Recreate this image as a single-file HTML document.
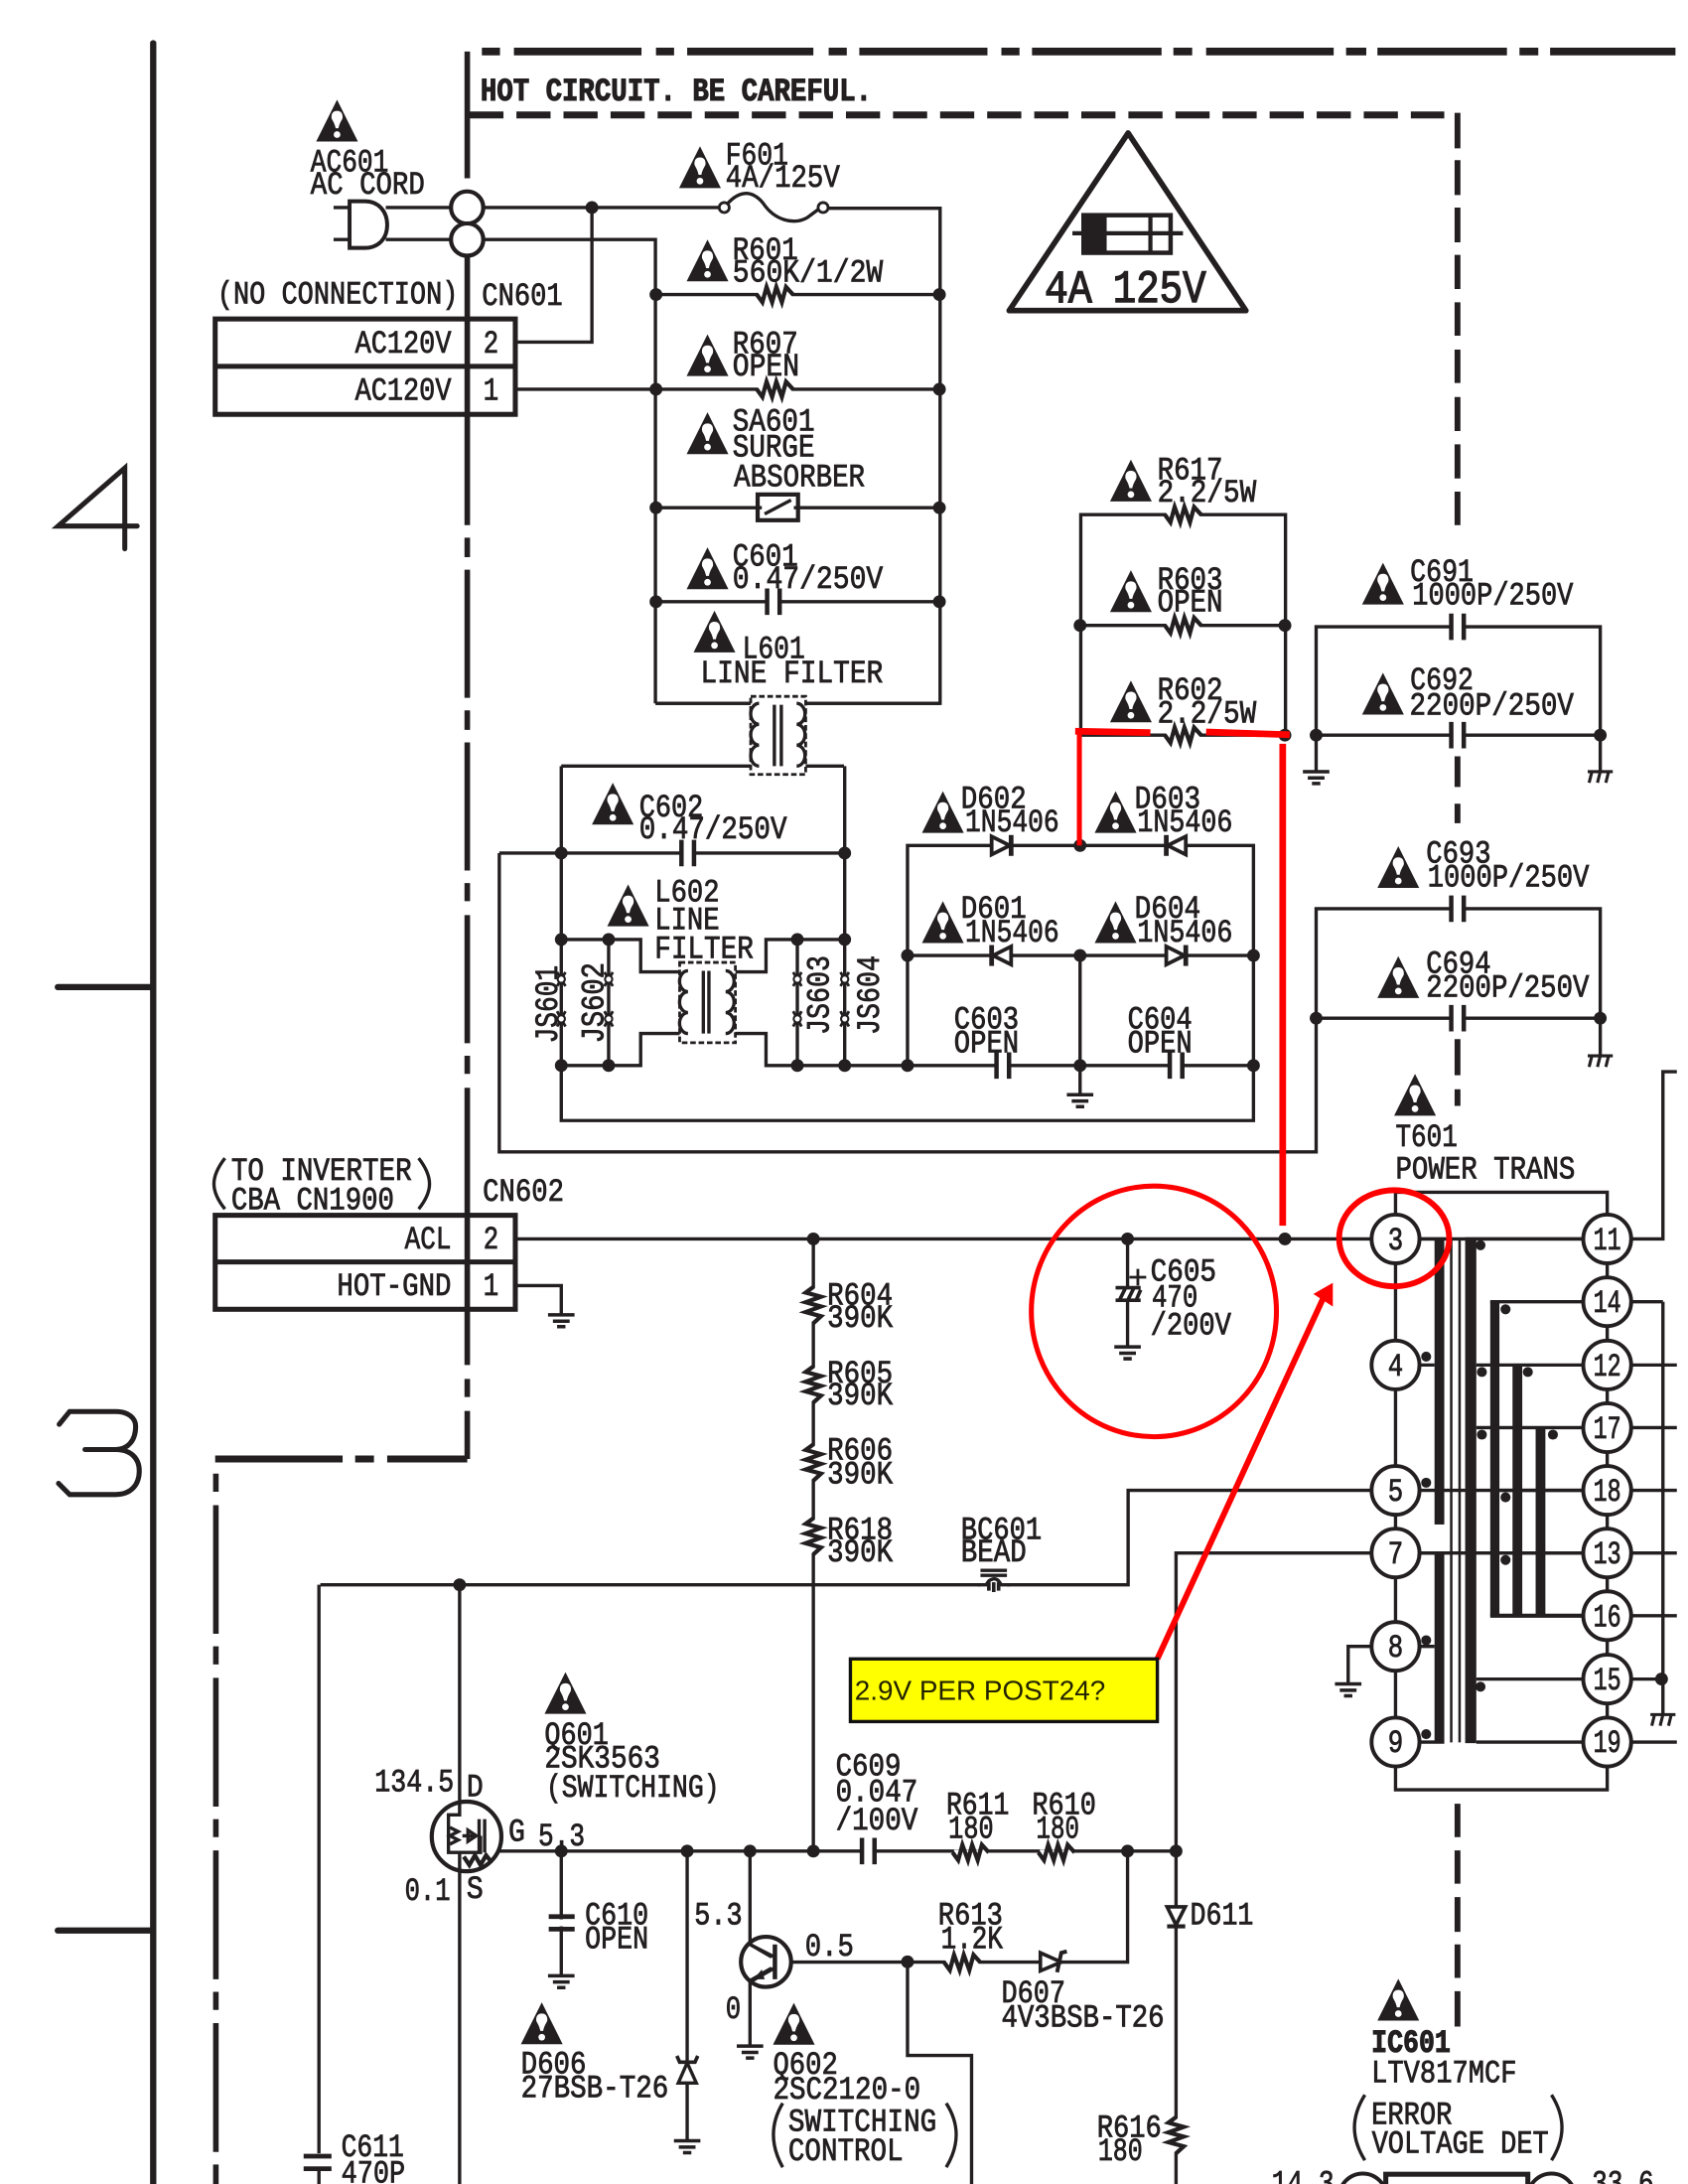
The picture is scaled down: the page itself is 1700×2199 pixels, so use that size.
<!DOCTYPE html>
<html><head><meta charset="utf-8"><title>Schematic</title>
<style>
html,body{margin:0;padding:0;background:#fff}
svg{display:block}
text{font-family:"Liberation Mono",monospace;font-size:23px;fill:#231f20;stroke:#231f20;stroke-width:.6}
.b{font-weight:bold;stroke-width:.8}
.big{font-size:33px;stroke-width:1}
.l{fill:none;stroke:#231f20;stroke-width:2.4;stroke-linejoin:miter}
.k{fill:none;stroke:#231f20;stroke-width:3.6;stroke-linecap:round}
.r{fill:none;stroke:#f00;stroke-width:4.2}
</style></head><body>
<svg xmlns="http://www.w3.org/2000/svg" width="1700" height="2199" viewBox="0 0 1212 1568" preserveAspectRatio="none">
<defs>
<g id="w"><path d="M15 0L30 30H0Z" fill="#231f20"/><path d="M15 8c3 0 4 2 4 4.500 0 2-2 3-3 8h-2c-1-5-3-6-3-8 0-2.500 1-4.500 4-4.500z" fill="#fff"/><circle cx="15" cy="25" r="2.400" fill="#fff"/></g>
<g id="rh"><rect x="-12" y="-2" width="24" height="4" fill="#fff"/><path d="M-13 0L-9 5.500L-6 -5.500L-2 5.500L1 -5.500L5 5.500L8 -5.500L13 0" fill="none" stroke="#231f20" stroke-width="3"/></g>
<g id="gd"><path d="M-9.500 0H9.500M-6 4.500H6M-3 8.500H3" fill="none" stroke="#231f20" stroke-width="2.500"/></g>
<g id="gh"><path d="M-9 0H9M-6 0L-8 8M0 0L-2 8M6 0L4 8" fill="none" stroke="#231f20" stroke-width="2.200"/></g>
<g id="dd"><rect x="-6" y="-2" width="12" height="4" fill="#fff"/><path d="M-7 -6.500L6 0L-7 6.500Z" fill="#fff" stroke="#231f20" stroke-width="2.700"/><path d="M7 -7.500V7.500" stroke="#231f20" stroke-width="3.400"/></g>
<circle id="o" r="4.600" fill="#231f20"/>
<circle id="s" r="3.600" fill="#231f20"/>
<g id="ch"><rect x="-4" y="-2" width="8" height="4" fill="#fff"/><path d="M-4.500 -9.500V9.500M4.500 -9.500V9.500" stroke="#231f20" stroke-width="3.200"/></g>
<ellipse id="p" rx="17.200" ry="17.500" fill="#fff" stroke="#231f20" stroke-width="2.800"/>
<g id="js"><path d="M-3 -20L3 -10M3 -20L-3 -10M-3 8L3 19M3 8L-3 19" stroke="#231f20" stroke-width="2"/><circle cy="-15" r="2.600" fill="#fff" stroke="#231f20" stroke-width="1.500"/><circle cy="13.500" r="2.600" fill="#fff" stroke="#231f20" stroke-width="1.500"/></g>
</defs>

<!-- frame and zone marks -->
<path d="M110 31V1568" class="k" style="stroke-width:4.500"/>
<path d="M41.500 708.700H108M41.500 1386H108" class="k" style="stroke-width:4.500"/>
<path d="M89.600 394V336L41.700 377.700H98.500" class="k" style="stroke-width:3.600"/>
<path d="M42.500 1022.600L50 1013.400H83C92 1013.400 97.400 1018 97.400 1024C97.400 1034 92 1040.700 83 1040.700H61M83 1040.700C94 1040.700 100 1047 100 1056C100 1066 94 1073 83 1073H50L42 1065" class="k" style="stroke-width:3.600"/>

<!-- hot boundary -->
<path d="M346 37H359M369 37H460.600M471 37H484M493.400 37H584M595 37H608M617 37H709M719 37H732M741 37H834M842.500 37H856M866 37H957.600M966.500 37H981M989 37H1082M1091 37H1104.500M1113 37H1203" style="fill:none;stroke:#231f20;stroke-width:5.500"/>
<path d="M335.500 37V128M335.500 176V377M335.500 386V400M335.500 409V501M335.500 510V524M335.500 533V625M335.500 634V647M335.500 657V749M335.500 758V771M335.500 781V980M335.500 990V1003M335.500 1013V1047.500" class="k" style="stroke-width:4;stroke-linecap:butt"/>
<path d="M337 82.500H1037" style="fill:none;stroke:#231f20;stroke-width:5;stroke-dasharray:24.500 9.300"/>
<path d="M1046.500 81V106.500M1046.500 115V140M1046.500 149V174M1046.500 183V207.500M1046.500 217V241M1046.500 251V275M1046.500 285V309.500M1046.500 319V343.500M1046.500 353V377M1046.500 543V565M1046.500 577V591M1046.500 746V772M1046.500 782V794M1046.500 1295V1319M1046.500 1328.500V1352.400M1046.500 1362V1387M1046.500 1396V1420M1046.500 1429.600V1455" class="k" style="stroke-width:4.200;stroke-linecap:butt"/>
<path d="M335.500 1047.500H278M268.500 1047.500H255M246 1047.500H154.500" style="fill:none;stroke:#231f20;stroke-width:5"/>
<path d="M155 1058V1071M155 1080.600V1173M155 1182V1195M155 1204.600V1297M155 1306V1319M155 1328.500V1421M155 1430V1443M155 1452.500V1545M155 1554V1568" class="k" style="stroke-width:4;stroke-linecap:butt"/>
<text class="b" x="345" y="72" textLength="281" lengthAdjust="spacingAndGlyphs">HOT CIRCUIT. BE CAREFUL.</text>

<!-- AC input -->
<path class="l" d="M239.500 149H251M239.500 172H251M277 149H325M277 172H325M346 149H520M346 172H470.600V505M425 149V245.600H370M591 149.500H675V505H470.600M370 279.500H471M471 211.500H675M471 279.500H675M471 364.500H675M471 432H675"/>
<path d="M251 144.500H262C272 144.500 278 152 278 161.500C278 171 272 178 262 178H251Z" fill="#fff" stroke="#231f20" stroke-width="2.800"/>
<ellipse cx="335.400" cy="149" rx="11.600" ry="11.600" fill="#fff" stroke="#231f20" stroke-width="3"/>
<ellipse cx="335.400" cy="172" rx="11.600" ry="11.600" fill="#fff" stroke="#231f20" stroke-width="3"/>
<path class="l" d="M520 149C530 136 540 136 548 146C556 158 570 162 580 156L588 150" style="fill:none"/>
<circle cx="520" cy="149" r="3.600" fill="#fff" stroke="#231f20" stroke-width="2"/>
<circle cx="591" cy="149" r="3.600" fill="#fff" stroke="#231f20" stroke-width="2"/>
<use href="#o" x="425" y="149"/>
<use href="#o" x="471" y="211.500"/><use href="#o" x="471" y="279.500"/><use href="#o" x="471" y="364.500"/><use href="#o" x="471" y="432"/>
<use href="#o" x="674.500" y="211.500"/><use href="#o" x="674.500" y="279.500"/><use href="#o" x="674.500" y="364.500"/><use href="#o" x="674.500" y="432"/>
<use href="#rh" x="556.400" y="211.500"/><use href="#rh" x="556.400" y="279.500"/>
<rect x="544" y="355" width="29" height="18.500" fill="#fff" stroke="#231f20" stroke-width="3"/>
<path d="M549 369L568 359M544 364.500H547M570 364.500H573" stroke="#231f20" stroke-width="2.400"/>
<use href="#ch" x="555.300" y="432"/>

<!-- connector tables -->
<rect x="154.500" y="229" width="215.500" height="68.500" fill="none" stroke="#231f20" stroke-width="3.600"/>
<path d="M154.500 263H370" stroke="#231f20" stroke-width="3.600"/>
<rect x="154.500" y="872.500" width="215.500" height="67.500" fill="none" stroke="#231f20" stroke-width="3.600"/>
<path d="M154.500 906H370" stroke="#231f20" stroke-width="3.600"/>
<path class="l" d="M370 923H403V944"/>
<use href="#gd" x="403" y="944"/>

<text x="223" y="123" textLength="56" lengthAdjust="spacingAndGlyphs">AC601</text>
<text x="223" y="139" textLength="82" lengthAdjust="spacingAndGlyphs">AC CORD</text>
<text x="521" y="118" textLength="45" lengthAdjust="spacingAndGlyphs">F601</text>
<text x="521" y="134" textLength="82" lengthAdjust="spacingAndGlyphs">4A/125V</text>
<text x="526" y="186" textLength="47" lengthAdjust="spacingAndGlyphs">R601</text>
<text x="526" y="202" textLength="108" lengthAdjust="spacingAndGlyphs">560K/1/2W</text>
<text x="526" y="253.500" textLength="47" lengthAdjust="spacingAndGlyphs">R607</text>
<text x="526" y="269.500" textLength="48" lengthAdjust="spacingAndGlyphs">OPEN</text>
<text x="526" y="309" textLength="59" lengthAdjust="spacingAndGlyphs">SA601</text>
<text x="526" y="327.500" textLength="59" lengthAdjust="spacingAndGlyphs">SURGE</text>
<text x="527" y="349" textLength="94" lengthAdjust="spacingAndGlyphs">ABSORBER</text>
<text x="526" y="406" textLength="47" lengthAdjust="spacingAndGlyphs">C601</text>
<text x="526" y="422" textLength="108" lengthAdjust="spacingAndGlyphs">0.47/250V</text>
<text x="533" y="472.500" textLength="45" lengthAdjust="spacingAndGlyphs">L601</text>
<text x="503" y="490" textLength="131" lengthAdjust="spacingAndGlyphs">LINE FILTER</text>
<text x="156" y="218" textLength="173" lengthAdjust="spacingAndGlyphs">(NO CONNECTION)</text>
<text x="346" y="219" textLength="58" lengthAdjust="spacingAndGlyphs">CN601</text>
<text x="255" y="253" textLength="69" lengthAdjust="spacingAndGlyphs">AC120V</text>
<text x="255" y="287" textLength="69" lengthAdjust="spacingAndGlyphs">AC120V</text>
<text x="347" y="253" textLength="11" lengthAdjust="spacingAndGlyphs">2</text>
<text x="347" y="287" textLength="11" lengthAdjust="spacingAndGlyphs">1</text>
<text x="166" y="847" textLength="129.600" lengthAdjust="spacingAndGlyphs">TO INVERTER</text>
<text x="166" y="868" textLength="117" lengthAdjust="spacingAndGlyphs">CBA CN1900</text>
<path class="l" d="M161.500 831.500C151 845 151 855 161.500 868M300.600 831.500C311 845 311 855 300.600 868"/>
<text x="346.600" y="862" textLength="58.400" lengthAdjust="spacingAndGlyphs">CN602</text>
<text x="290.600" y="896.400" textLength="33.400" lengthAdjust="spacingAndGlyphs">ACL</text>
<text x="242" y="930" textLength="82" lengthAdjust="spacingAndGlyphs">HOT-GND</text>
<text x="347" y="896.400" textLength="11" lengthAdjust="spacingAndGlyphs">2</text>
<text x="347" y="930" textLength="11" lengthAdjust="spacingAndGlyphs">1</text>

<!-- warning triangles -->
<use href="#w" x="227" y="71.600"/><use href="#w" x="487.600" y="105"/><use href="#w" x="493" y="172"/><use href="#w" x="493" y="240"/><use href="#w" x="493" y="296"/><use href="#w" x="493" y="393"/><use href="#w" x="498" y="438.400"/><use href="#w" x="425" y="562"/><use href="#w" x="436" y="635"/>
<use href="#w" x="797" y="330"/><use href="#w" x="797" y="409.400"/><use href="#w" x="797" y="488.600"/><use href="#w" x="978" y="404"/><use href="#w" x="978" y="483"/>
<use href="#w" x="662" y="568"/><use href="#w" x="786" y="568"/><use href="#w" x="662" y="647"/><use href="#w" x="786" y="647"/>
<use href="#w" x="989" y="607.500"/><use href="#w" x="989" y="686.500"/><use href="#w" x="1001" y="771"/>
<use href="#w" x="391" y="1200.500"/><use href="#w" x="374" y="1437.600"/><use href="#w" x="555" y="1438"/><use href="#w" x="989" y="1420.700"/>

<!-- fuse triangle -->
<path d="M810 95.500L894.600 223H724.600Z" fill="none" stroke="#231f20" stroke-width="4" stroke-linejoin="round"/>
<rect x="778" y="153.500" width="16.600" height="28.500" fill="#231f20"/>
<rect x="778" y="154.500" width="62.500" height="27" fill="none" stroke="#231f20" stroke-width="3.200"/>
<path d="M770 167.500H849.400M826 154V182" stroke="#231f20" stroke-width="3"/>
<text class="big" x="750" y="216.700" textLength="34" lengthAdjust="spacingAndGlyphs">4A</text>
<text class="big" x="799" y="216.700" textLength="67" lengthAdjust="spacingAndGlyphs">125V</text>

<!-- R617 etc -->
<path class="l" d="M776 527.800V369.500H923V527.800M776 449H923M776 527.800H923M945 527.800V450H1149V527.800M945 527.800H1149M945 527.800V553M1149 527.800V553"/>
<use href="#rh" x="849.400" y="369.500"/><use href="#rh" x="849.400" y="449"/><use href="#rh" x="849.400" y="527.800"/>
<use href="#o" x="775.500" y="449"/><use href="#o" x="922.600" y="449"/><use href="#o" x="922.600" y="527.800"/>
<use href="#o" x="945" y="527.800"/><use href="#o" x="1149" y="527.800"/>
<use href="#ch" x="1046.500" y="450"/><use href="#ch" x="1046.500" y="527.800"/>
<use href="#gd" x="945" y="554"/><use href="#gh" x="1149" y="554"/>
<text x="831" y="344" textLength="47" lengthAdjust="spacingAndGlyphs">R617</text>
<text x="831" y="360" textLength="71" lengthAdjust="spacingAndGlyphs">2.2/5W</text>
<text x="831" y="423" textLength="47" lengthAdjust="spacingAndGlyphs">R603</text>
<text x="831" y="439" textLength="47" lengthAdjust="spacingAndGlyphs">OPEN</text>
<text x="831" y="502" textLength="47" lengthAdjust="spacingAndGlyphs">R602</text>
<text x="831" y="518.600" textLength="71" lengthAdjust="spacingAndGlyphs">2.2/5W</text>
<text x="1012.500" y="417" textLength="45.500" lengthAdjust="spacingAndGlyphs">C691</text>
<text x="1014" y="434" textLength="115.600" lengthAdjust="spacingAndGlyphs">1000P/250V</text>
<text x="1012.500" y="495" textLength="45.500" lengthAdjust="spacingAndGlyphs">C692</text>
<text x="1012" y="513" textLength="118" lengthAdjust="spacingAndGlyphs">2200P/250V</text>

<!-- line filter 1 -->
<path class="l" d="M471 505H540M578 505H675M403 550H540M578 550H606"/>
<rect x="539" y="500" width="39.500" height="56" fill="#fff" stroke="#231f20" stroke-width="2" stroke-dasharray="4 2"/>
<path class="l" d="M545 505a6 7.500 0 0 0 0 15a6 7.500 0 0 0 0 15a6 7.500 0 0 0 0 15M572 505a6 7.500 0 0 1 0 15a6 7.500 0 0 1 0 15a6 7.500 0 0 1 0 15M556 506V550M561 506V550"/>

<!-- second block -->
<path class="l" d="M403 550V804.500H900V607H651.600V765M358.500 612.500H606.500M358.500 612.500V827H945V652.400H1149V731H945M1149 731V757M606.500 550V765M403 674.500H460V697.800H488M403 765H460V742H488M528 697.800H550V674.500H606.500M528 742H550V765H900M437 674.500V765M572.500 674.500V765M651.600 686H900M775.500 686V785"/>
<use href="#ch" x="493.800" y="612.500"/>
<use href="#o" x="403" y="612.500"/><use href="#o" x="606.500" y="612.500"/><use href="#o" x="403" y="674.500"/><use href="#o" x="437" y="674.500"/><use href="#o" x="572.500" y="674.500"/><use href="#o" x="606.500" y="674.500"/><use href="#o" x="403" y="765"/><use href="#o" x="437" y="765"/><use href="#o" x="572.500" y="765"/><use href="#o" x="606.500" y="765"/><use href="#o" x="651.600" y="765"/><use href="#o" x="775.500" y="765"/><use href="#o" x="900" y="765"/><use href="#o" x="651.600" y="686"/><use href="#o" x="775.500" y="686"/><use href="#o" x="900" y="686"/><use href="#o" x="775.500" y="607"/>
<rect x="488" y="691" width="40" height="57.600" fill="#fff" stroke="#231f20" stroke-width="2" stroke-dasharray="4 2"/>
<path class="l" d="M494 697a6 7.400 0 0 0 0 15a6 7.400 0 0 0 0 15a6 7.400 0 0 0 0 15M521 697a6 7.400 0 0 1 0 15a6 7.400 0 0 1 0 15a6 7.400 0 0 1 0 15M505 697V742M509 697V742"/>
<use href="#js" x="403" y="718"/><use href="#js" x="437" y="718"/><use href="#js" x="572.500" y="718"/><use href="#js" x="606.500" y="718"/>
<text transform="translate(400,749) rotate(-90)" textLength="56" lengthAdjust="spacingAndGlyphs">JS601</text>
<text transform="translate(433,749) rotate(-90)" textLength="58" lengthAdjust="spacingAndGlyphs">JS602</text>
<text transform="translate(595,743) rotate(-90)" textLength="57" lengthAdjust="spacingAndGlyphs">JS603</text>
<text transform="translate(631,743) rotate(-90)" textLength="57" lengthAdjust="spacingAndGlyphs">JS604</text>
<text x="459" y="586" textLength="46" lengthAdjust="spacingAndGlyphs">C602</text>
<text x="459" y="602" textLength="106" lengthAdjust="spacingAndGlyphs">0.47/250V</text>
<text x="470" y="647" textLength="46.600" lengthAdjust="spacingAndGlyphs">L602</text>
<text x="470" y="667" textLength="46.600" lengthAdjust="spacingAndGlyphs">LINE</text>
<text x="470" y="687.600" textLength="71" lengthAdjust="spacingAndGlyphs">FILTER</text>
<use href="#dd" x="719" y="607"/><use href="#dd" transform="translate(844.400,607) rotate(180)"/><use href="#dd" transform="translate(719,686) rotate(180)"/><use href="#dd" x="844.400" y="686"/>
<use href="#ch" x="720" y="765"/><use href="#ch" x="844.400" y="765"/>
<use href="#gd" x="775.500" y="786"/>
<text x="690" y="580" textLength="47" lengthAdjust="spacingAndGlyphs">D602</text>
<text x="693" y="597" textLength="67.500" lengthAdjust="spacingAndGlyphs">1N5406</text>
<text x="814.600" y="580" textLength="47.400" lengthAdjust="spacingAndGlyphs">D603</text>
<text x="816.600" y="597" textLength="68.400" lengthAdjust="spacingAndGlyphs">1N5406</text>
<text x="690" y="659" textLength="47" lengthAdjust="spacingAndGlyphs">D601</text>
<text x="693" y="676" textLength="67.500" lengthAdjust="spacingAndGlyphs">1N5406</text>
<text x="814.600" y="659" textLength="47.400" lengthAdjust="spacingAndGlyphs">D604</text>
<text x="816.600" y="676" textLength="68.400" lengthAdjust="spacingAndGlyphs">1N5406</text>
<text x="685" y="738.400" textLength="46.600" lengthAdjust="spacingAndGlyphs">C603</text>
<text x="685" y="755.500" textLength="46.600" lengthAdjust="spacingAndGlyphs">OPEN</text>
<text x="809.600" y="738.400" textLength="46.400" lengthAdjust="spacingAndGlyphs">C604</text>
<text x="809.600" y="755.500" textLength="46.400" lengthAdjust="spacingAndGlyphs">OPEN</text>
<use href="#ch" x="1046.500" y="652.400"/><use href="#ch" x="1046.500" y="731"/>
<use href="#o" x="945" y="731"/><use href="#o" x="1149" y="731"/>
<use href="#gh" x="1149" y="758"/>
<text x="1024" y="619.300" textLength="46.500" lengthAdjust="spacingAndGlyphs">C693</text>
<text x="1025" y="636.400" textLength="116" lengthAdjust="spacingAndGlyphs">1000P/250V</text>
<text x="1024" y="698.500" textLength="46.500" lengthAdjust="spacingAndGlyphs">C694</text>
<text x="1024" y="715.500" textLength="117" lengthAdjust="spacingAndGlyphs">2200P/250V</text>
<text x="1002" y="823" textLength="44.500" lengthAdjust="spacingAndGlyphs">T601</text>
<text x="1002" y="846" textLength="129" lengthAdjust="spacingAndGlyphs">POWER TRANS</text>

<!-- main rail -->
<path class="l" d="M370 889.500H1194V769.400H1204M584 889.500V1329M809.600 889.500V966M230 1137.800H810V1070H1204M844.400 1568V1115H1204M229 1137.800V1568M330 1137.800V1568M358 1329H844.400M1002 856H1154V1285H1002ZM1194 934.600V1230M1154 934.600H1194M1154 980H1204M1154 1025H1204M1154 1160H1204M1154 1205.500H1194M1154 1250.700H1204"/>
<use href="#o" x="584" y="889.500"/><use href="#o" x="809.600" y="889.500"/><use href="#o" x="922.600" y="889.500"/>
<use href="#o" x="330" y="1137.800"/>
<rect x="801" y="924" width="18" height="10" fill="#fff"/>
<path d="M801 924.500H819M801 933.500H819M804 933L808 925M810 933L814 925M816 933L819 926" stroke="#231f20" stroke-width="2.600"/>
<path d="M817 911V923M811 917H823" stroke="#231f20" stroke-width="2"/>
<use href="#gd" x="809.600" y="967"/>
<text x="826" y="919.600" textLength="47.400" lengthAdjust="spacingAndGlyphs">C605</text>
<text x="827" y="938" textLength="33" lengthAdjust="spacingAndGlyphs">470</text>
<text x="826" y="958" textLength="58" lengthAdjust="spacingAndGlyphs">/200V</text>
<use href="#rh" transform="translate(584,937) rotate(90)"/><use href="#rh" transform="translate(584,994) rotate(90)"/><use href="#rh" transform="translate(584,1050) rotate(90)"/><use href="#rh" transform="translate(584,1103) rotate(90)"/>
<text x="594" y="936.600" textLength="47" lengthAdjust="spacingAndGlyphs">R604</text><text x="594" y="952.600" textLength="47" lengthAdjust="spacingAndGlyphs">390K</text>
<text x="594" y="992.500" textLength="47" lengthAdjust="spacingAndGlyphs">R605</text><text x="594" y="1008.300" textLength="47" lengthAdjust="spacingAndGlyphs">390K</text>
<text x="594" y="1048" textLength="47" lengthAdjust="spacingAndGlyphs">R606</text><text x="594" y="1065" textLength="47" lengthAdjust="spacingAndGlyphs">390K</text>
<text x="594" y="1105" textLength="47" lengthAdjust="spacingAndGlyphs">R618</text><text x="594" y="1121" textLength="47" lengthAdjust="spacingAndGlyphs">390K</text>
<text x="690" y="1105" textLength="58" lengthAdjust="spacingAndGlyphs">BC601</text><text x="690" y="1121" textLength="47" lengthAdjust="spacingAndGlyphs">BEAD</text>
<rect x="704" y="1133" width="19" height="9" fill="#fff"/>
<path d="M704 1127.500H723M704 1131H723M702 1137.800H708L710 1135C713 1133 715 1133 717 1135L719 1137.800H725" fill="none" stroke="#231f20" stroke-width="2.400"/>
<path d="M710 1136V1142M713.500 1136V1143M717 1136V1142" stroke="#231f20" stroke-width="2.600"/>

<!-- transformer core -->
<rect x="1030" y="889.500" width="7" height="205" fill="#231f20"/>
<rect x="1030" y="1115" width="7" height="136" fill="#231f20"/>
<rect x="1052" y="889.500" width="8" height="362" fill="#231f20"/>
<path d="M1042 889.500V1251M1048 889.500V1251" stroke="#231f20" stroke-width="1.800"/>
<rect x="1070" y="934.600" width="6.600" height="225.400" fill="#231f20"/>
<rect x="1086" y="980" width="7" height="180" fill="#231f20"/>
<rect x="1102.600" y="1025" width="7" height="135" fill="#231f20"/>
<path class="l" d="M1002 889.500H1037M1002 980H1030M1002 1182H1030M1002 1250.700H1037M1002 1115H1037M1052 889.500H1154M1070 934.600H1154M1060 980H1154M1060 1025H1154M1076 1070H1154M1076 1115H1154M1060 1205.500H1154M1060 1250.700H1154"/>
<path d="M1070 1160H1154" stroke="#231f20" stroke-width="3"/>
<use href="#s" x="1063" y="894"/><use href="#s" x="1024" y="974"/><use href="#s" x="1024" y="1064.500"/><use href="#s" x="1064" y="985"/><use href="#s" x="1064" y="1030"/><use href="#s" x="1081" y="940"/><use href="#s" x="1097" y="985"/><use href="#s" x="1115" y="1030"/><use href="#s" x="1081" y="1075"/><use href="#s" x="1081" y="1120"/><use href="#s" x="1024" y="1177.600"/><use href="#s" x="1024" y="1245"/><use href="#s" x="1063" y="1211"/>
<use href="#o" x="1193" y="1205.500"/>
<use href="#gh" x="1194" y="1231"/>
<path class="l" d="M1002 1182H968V1208"/>
<use href="#gd" x="968" y="1209"/>
<use href="#p" x="1002" y="889.500"/><use href="#p" x="1002" y="980"/><use href="#p" x="1002" y="1070"/><use href="#p" x="1002" y="1115"/><use href="#p" x="1002" y="1182"/><use href="#p" x="1002" y="1250.700"/>
<use href="#p" x="1154" y="889.500"/><use href="#p" x="1154" y="934.600"/><use href="#p" x="1154" y="980"/><use href="#p" x="1154" y="1025"/><use href="#p" x="1154" y="1070"/><use href="#p" x="1154" y="1115"/><use href="#p" x="1154" y="1160"/><use href="#p" x="1154" y="1205.500"/><use href="#p" x="1154" y="1250.700"/>
<text x="996.500" y="897" textLength="11" lengthAdjust="spacingAndGlyphs">3</text>
<text x="996.500" y="987.500" textLength="11" lengthAdjust="spacingAndGlyphs">4</text>
<text x="996.500" y="1077.500" textLength="11" lengthAdjust="spacingAndGlyphs">5</text>
<text x="996.500" y="1122.500" textLength="11" lengthAdjust="spacingAndGlyphs">7</text>
<text x="996.500" y="1189.500" textLength="11" lengthAdjust="spacingAndGlyphs">8</text>
<text x="996.500" y="1258" textLength="11" lengthAdjust="spacingAndGlyphs">9</text>
<text x="1144" y="897" textLength="20" lengthAdjust="spacingAndGlyphs">11</text>
<text x="1144" y="942" textLength="20" lengthAdjust="spacingAndGlyphs">14</text>
<text x="1144" y="987.500" textLength="20" lengthAdjust="spacingAndGlyphs">12</text>
<text x="1144" y="1032.500" textLength="20" lengthAdjust="spacingAndGlyphs">17</text>
<text x="1144" y="1077.500" textLength="20" lengthAdjust="spacingAndGlyphs">18</text>
<text x="1144" y="1122.500" textLength="20" lengthAdjust="spacingAndGlyphs">13</text>
<text x="1144" y="1167.500" textLength="20" lengthAdjust="spacingAndGlyphs">16</text>
<text x="1144" y="1213" textLength="20" lengthAdjust="spacingAndGlyphs">15</text>
<text x="1144" y="1258" textLength="20" lengthAdjust="spacingAndGlyphs">19</text>

<!-- lower section -->
<use href="#o" x="403" y="1329"/><use href="#o" x="493.400" y="1329"/><use href="#o" x="538.500" y="1329"/><use href="#o" x="584" y="1329"/><use href="#o" x="809.600" y="1329"/><use href="#o" x="844.400" y="1329"/><use href="#o" x="651.600" y="1408.500"/>
<ellipse cx="335" cy="1318.500" rx="25" ry="25" fill="#fff" stroke="#231f20" stroke-width="3"/>
<path class="l" d="M330 1293V1303H322V1330H330V1344M344 1306V1330M348 1306V1330M330 1330H345V1318"/>
<path d="M323 1312L329 1315L323 1318L329 1321L323 1324M332 1318H342M336 1314L342 1318L336 1322Z" fill="none" stroke="#231f20" stroke-width="2.400"/>
<path d="M333 1333L337 1339L341 1332L345 1339L349 1332L353 1337" fill="none" stroke="#231f20" stroke-width="3"/>
<text x="269" y="1286" textLength="57" lengthAdjust="spacingAndGlyphs">134.5</text>
<text x="335" y="1289.500" textLength="12" lengthAdjust="spacingAndGlyphs">D</text>
<text x="365" y="1321.600" textLength="12" lengthAdjust="spacingAndGlyphs">G</text>
<text x="386.400" y="1325" textLength="33.600" lengthAdjust="spacingAndGlyphs">5.3</text>
<text x="290.600" y="1364" textLength="32.800" lengthAdjust="spacingAndGlyphs">0.1</text>
<text x="335" y="1362.600" textLength="12" lengthAdjust="spacingAndGlyphs">S</text>
<text x="391" y="1252" textLength="46" lengthAdjust="spacingAndGlyphs">Q601</text>
<text x="391" y="1269" textLength="83" lengthAdjust="spacingAndGlyphs">2SK3563</text>
<text x="392" y="1290" textLength="124.600" lengthAdjust="spacingAndGlyphs">(SWITCHING)</text>
<path class="l" d="M403 1329V1418"/>
<rect x="398" y="1378" width="10" height="5" fill="#fff"/>
<path d="M394 1376H412.600M394 1385H412.600" stroke="#231f20" stroke-width="3.400"/>
<use href="#gd" x="403" y="1418.500"/>
<text x="420" y="1381.600" textLength="45.600" lengthAdjust="spacingAndGlyphs">C610</text>
<text x="420" y="1398.500" textLength="45.600" lengthAdjust="spacingAndGlyphs">OPEN</text>
<text x="498.500" y="1381.600" textLength="34.500" lengthAdjust="spacingAndGlyphs">5.3</text>
<path class="l" d="M493.400 1329V1536M538.500 1329V1396L554 1405M554 1413L538.500 1422V1469M568 1408.700H809.600V1329M651.600 1408.700V1475.700H697.600V1568"/>
<ellipse cx="550" cy="1408.500" rx="18" ry="18" fill="none" stroke="#231f20" stroke-width="3"/>
<path d="M538.500 1396L556 1405M556 1413L538.500 1423" stroke="#231f20" stroke-width="2.400"/>
<path d="M556.400 1396V1421" stroke="#231f20" stroke-width="3.200"/>
<path d="M541 1421L547 1414L549 1421Z" fill="#231f20"/>
<use href="#gd" x="538.500" y="1469"/><use href="#gd" x="493.400" y="1537"/>
<path d="M487 1495.500H500L493.400 1481Z" fill="#fff" stroke="#231f20" stroke-width="2.400"/>
<path d="M486 1476L488 1480.500H499L501 1476" fill="none" stroke="#231f20" stroke-width="2.600"/>
<text x="578" y="1404" textLength="35" lengthAdjust="spacingAndGlyphs">0.5</text>
<text x="521" y="1449" textLength="11" lengthAdjust="spacingAndGlyphs">0</text>
<text x="374" y="1488.500" textLength="47" lengthAdjust="spacingAndGlyphs">D606</text>
<text x="374" y="1505.600" textLength="106" lengthAdjust="spacingAndGlyphs">27BSB-T26</text>
<text x="555" y="1489" textLength="46.600" lengthAdjust="spacingAndGlyphs">Q602</text>
<text x="555" y="1506.600" textLength="106" lengthAdjust="spacingAndGlyphs">2SC2120-0</text>
<text x="566" y="1530" textLength="106.500" lengthAdjust="spacingAndGlyphs">SWITCHING</text>
<text x="566" y="1551" textLength="82.500" lengthAdjust="spacingAndGlyphs">CONTROL</text>
<path class="l" d="M562 1510C553 1525 553 1540 562 1556M679.400 1510C689 1525 689 1540 679.400 1556"/>
<rect x="218" y="1546" width="21" height="11" fill="#fff"/>
<path d="M218 1548H238M218 1557H238" stroke="#231f20" stroke-width="3.400"/>
<text x="245" y="1548" textLength="45" lengthAdjust="spacingAndGlyphs">C611</text>
<text x="245" y="1567" textLength="46" lengthAdjust="spacingAndGlyphs">470P</text>
<use href="#ch" x="623.400" y="1329"/>
<use href="#rh" x="697" y="1330"/><use href="#rh" x="758.600" y="1330"/><use href="#rh" x="691" y="1409"/>
<text x="600" y="1274.500" textLength="47" lengthAdjust="spacingAndGlyphs">C609</text>
<text x="600" y="1293" textLength="59" lengthAdjust="spacingAndGlyphs">0.047</text>
<text x="600" y="1313.600" textLength="59" lengthAdjust="spacingAndGlyphs">/100V</text>
<text x="679.400" y="1302.500" textLength="45.200" lengthAdjust="spacingAndGlyphs">R611</text>
<text x="681" y="1319.600" textLength="32.400" lengthAdjust="spacingAndGlyphs">180</text>
<text x="741" y="1302.500" textLength="46" lengthAdjust="spacingAndGlyphs">R610</text>
<text x="744" y="1319.600" textLength="31" lengthAdjust="spacingAndGlyphs">180</text>
<text x="673.600" y="1381.600" textLength="46.400" lengthAdjust="spacingAndGlyphs">R613</text>
<text x="675.600" y="1398.500" textLength="44.400" lengthAdjust="spacingAndGlyphs">1.2K</text>
<rect x="746" y="1404" width="16" height="9" fill="#fff"/>
<path d="M747 1402L762 1408.700L747 1415Z" fill="#fff" stroke="#231f20" stroke-width="2.600"/>
<path d="M759 1416L762 1402L766 1401" fill="none" stroke="#231f20" stroke-width="2.800"/>
<text x="719" y="1437.600" textLength="46" lengthAdjust="spacingAndGlyphs">D607</text>
<text x="719" y="1455" textLength="117" lengthAdjust="spacingAndGlyphs">4V3BSB-T26</text>
<path d="M838 1369H851L844.400 1382Z" fill="#fff" stroke="#231f20" stroke-width="2.600"/>
<path d="M838 1383H851" stroke="#231f20" stroke-width="3"/>
<text x="854.500" y="1381.600" textLength="45.500" lengthAdjust="spacingAndGlyphs">D611</text>
<use href="#rh" transform="translate(844.400,1533) rotate(90)"/>
<text x="787.600" y="1534" textLength="46.400" lengthAdjust="spacingAndGlyphs">R616</text>
<text x="788.400" y="1551" textLength="32" lengthAdjust="spacingAndGlyphs">180</text>
<text class="b" x="984.700" y="1473" textLength="56.800" lengthAdjust="spacingAndGlyphs">IC601</text>
<text x="984.700" y="1495" textLength="104.300" lengthAdjust="spacingAndGlyphs">LTV817MCF</text>
<text x="984.700" y="1524.700" textLength="57.900" lengthAdjust="spacingAndGlyphs">ERROR</text>
<text x="985" y="1545.400" textLength="127" lengthAdjust="spacingAndGlyphs">VOLTAGE DET</text>
<path class="l" d="M980 1504C970 1520 970 1535 980 1551M1114 1504C1124 1520 1124 1535 1114 1551"/>
<text x="913" y="1574" textLength="45" lengthAdjust="spacingAndGlyphs">14.3</text>
<text x="1143" y="1574" textLength="44.500" lengthAdjust="spacingAndGlyphs">33.6</text>
<rect x="995" y="1561" width="102" height="20" fill="none" stroke="#231f20" stroke-width="3.600"/>
<use href="#p" x="978.500" y="1578"/><use href="#p" x="1114" y="1578"/>

<!-- annotations -->
<path class="r" d="M772 525L826 526M866 525.500L926 527.500" style="stroke-width:4.800"/>
<path class="r" d="M775 524V607" style="stroke-width:3.600"/>
<path class="r" d="M921 534V880" style="stroke-width:4.800"/>
<ellipse class="r" cx="828.500" cy="941.500" rx="88" ry="90" style="stroke-width:3.600"/>
<ellipse class="r" cx="1001" cy="889" rx="39.500" ry="34.500" style="stroke-width:4.200"/>
<path class="r" d="M831 1191L951 930" style="stroke-width:4.200"/>
<path d="M957 921L943 929L957 938Z" fill="#f00"/>
<rect x="610.600" y="1191" width="220.400" height="45" fill="#ff0" stroke="#111" stroke-width="2.400"/>
<text x="613.700" y="1220.500" textLength="180" lengthAdjust="spacingAndGlyphs" style="font-family:'Liberation Sans',sans-serif;font-size:19.500px;stroke:none;fill:#222200">2.9V PER POST24?</text>
</svg>
</body></html>
